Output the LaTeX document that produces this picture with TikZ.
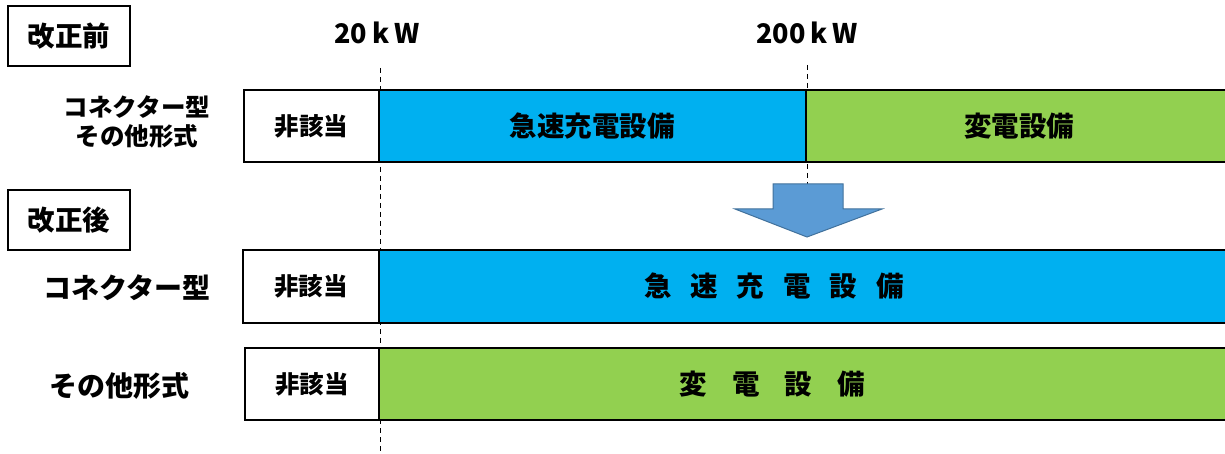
\documentclass[tikz,border=0pt]{standalone}
\usepackage{fontspec}
\setmainfont{Noto Sans CJK JP}
\definecolor{barblue}{HTML}{00B0F0}
\definecolor{bargreen}{HTML}{92D050}
\definecolor{arrowfill}{HTML}{5B9BD5}
\definecolor{arrowline}{HTML}{41719C}
\tikzset{
  box/.style={draw=black, line width=2pt, inner sep=0pt, outer sep=0pt},
  tag/.style={box, fill=white, minimum width=122pt, minimum height=60pt, font=\fontsize{27.5}{30}\selectfont\bfseries},
  nonebox/.style={box, fill=white, minimum height=72pt, font=\fontsize{24.5}{28}\selectfont\bfseries},
  bluebar/.style={box, fill=barblue, minimum height=72pt},
  greenbar/.style={box, fill=bargreen, minimum height=72pt},
  bartext/.style={font=\fontsize{27.5}{30}\selectfont\bfseries, inner sep=0pt},
  rowlabel/.style={align=center, inner sep=0pt},
  kwlabel/.style={font=\fontsize{27}{30}\selectfont\bfseries, inner sep=0pt},
  guide/.style={draw=black, line width=0.9pt, dash pattern=on 5pt off 4pt},
  bigarrow/.style={fill=arrowfill, draw=arrowline, line width=1pt}
}
\begin{document}
\begin{tikzpicture}[x=1pt, y=-1pt]
\useasboundingbox (0,0) rectangle (1225,454);
% guide lines
\coordinate (g20top) at (380,68);
\coordinate (g20bot) at (380,454);
\coordinate (g200top) at (807,65);
\coordinate (g200bot) at (807,184);
\draw[guide] (g20top) -- (g20bot);
\draw[guide] (g200top) -- (g200bot);
% headers
\node[tag] (before) at (69,36.5) {改正前};
\node[tag] (after) at (69,220.5) {改正後};
\node[kwlabel] (kw20) at (377,33) {20\kern5pt k\kern5pt W};
\node[kwlabel] (kw200) at (807,33) {200\kern5pt k\kern5pt W};
% row 1 (before)
\node[rowlabel, font=\fontsize{24.5}{29}\selectfont\bfseries] (lab1) at (137,122) {コネクター型\\その他形式};
\node[nonebox, minimum width=135pt] (r1n) at (311.5,126) {非該当};
\node[bluebar, minimum width=427pt] (r1b) at (592.5,126) {};
\node[bartext] (r1bt) at (592,126) {急速充電設備};
\node[greenbar, minimum width=424pt] (r1g) at (1018,126) {};
\node[bartext] (r1gt) at (1019,126) {変電設備};
% arrow
\filldraw[bigarrow] (773,184) -- (843,184) -- (843,209) -- (882,209) -- (807,237) -- (735,209) -- (773,209) -- cycle;
% row 2 (after, connector)
\node[rowlabel, font=\fontsize{28}{30}\selectfont\bfseries] (lab2) at (127,288) {コネクター型};
\node[nonebox, minimum width=136pt, minimum height=73pt] (r2n) at (311,286.5) {非該当};
\node[bluebar, minimum width=851pt, minimum height=73pt] (r2b) at (804.5,286.5) {};
\node[bartext] (r2bt) at (774,286) {急\kern19pt 速\kern19pt 充\kern19pt 電\kern19pt 設\kern19pt 備};
% row 3 (after, other)
\node[rowlabel, font=\fontsize{28}{30}\selectfont\bfseries] (lab3) at (119,386) {その他形式};
\node[nonebox, minimum width=134pt] (r3n) at (312,384) {非該当};
\node[greenbar, minimum width=851pt] (r3g) at (804.5,384) {};
\node[bartext] (r3gt) at (772,384) {変\kern25pt 電\kern25pt 設\kern25pt 備};
\end{tikzpicture}
\end{document}
